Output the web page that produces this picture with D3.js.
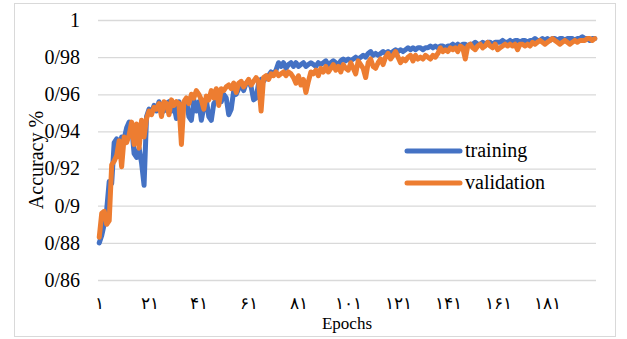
<!DOCTYPE html>
<html>
<head>
<meta charset="utf-8">
<script src="https://cdn.jsdelivr.net/npm/d3@7"></script>
<style>
  body { margin: 0; background: #fff; }
  svg { display: block; }
</style>
</head>
<body>
<svg id="chart" width="627" height="339"></svg>
<script>
// epochs 1..200
var epochs = d3.range(1, 201);

var training = [
  0.880,0.884,0.890,0.898,0.913,0.912,0.934,0.936,0.929,0.937,
  0.936,0.942,0.945,0.943,0.928,0.926,0.931,0.923,0.911,0.948,
  0.952,0.950,0.954,0.951,0.956,0.953,0.951,0.955,0.956,0.951,
  0.954,0.947,0.956,0.950,0.955,0.957,0.948,0.946,0.957,0.951,
  0.956,0.946,0.953,0.957,0.948,0.946,0.955,0.957,0.959,0.956,
  0.960,0.958,0.949,0.952,0.962,0.960,0.963,0.965,0.962,0.966,
  0.967,0.964,0.957,0.958,0.966,0.968,0.967,0.969,0.970,0.972,
  0.971,0.973,0.977,0.975,0.977,0.974,0.976,0.977,0.975,0.977,
  0.975,0.976,0.977,0.975,0.976,0.977,0.976,0.975,0.977,0.976,
  0.977,0.978,0.976,0.977,0.978,0.977,0.976,0.978,0.979,0.978,
  0.979,0.978,0.979,0.980,0.979,0.980,0.981,0.980,0.982,0.983,
  0.981,0.982,0.981,0.982,0.983,0.982,0.983,0.982,0.983,0.984,
  0.983,0.984,0.983,0.984,0.985,0.984,0.985,0.984,0.985,0.985,
  0.984,0.985,0.985,0.986,0.985,0.986,0.985,0.986,0.986,0.985,
  0.986,0.986,0.987,0.986,0.987,0.986,0.987,0.987,0.986,0.987,
  0.987,0.988,0.987,0.987,0.988,0.987,0.988,0.988,0.987,0.988,
  0.988,0.988,0.989,0.988,0.988,0.989,0.988,0.989,0.989,0.988,
  0.989,0.989,0.988,0.989,0.989,0.990,0.989,0.989,0.990,0.989,
  0.990,0.989,0.990,0.990,0.989,0.990,0.990,0.989,0.990,0.990,
  0.990,0.989,0.990,0.990,0.991,0.990,0.990,0.989,0.990,0.990
];

var validation = [
  0.883,0.896,0.897,0.890,0.892,0.922,0.924,0.927,0.935,0.921,
  0.937,0.934,0.938,0.945,0.933,0.944,0.931,0.946,0.937,0.947,
  0.951,0.949,0.953,0.952,0.955,0.948,0.956,0.955,0.949,0.957,
  0.954,0.956,0.955,0.933,0.956,0.958,0.955,0.960,0.958,0.962,
  0.960,0.957,0.952,0.959,0.957,0.962,0.958,0.963,0.954,0.963,
  0.962,0.964,0.965,0.963,0.966,0.961,0.966,0.967,0.964,0.966,
  0.968,0.965,0.967,0.969,0.967,0.951,0.969,0.970,0.968,0.971,
  0.970,0.972,0.970,0.971,0.972,0.970,0.972,0.971,0.969,0.966,
  0.970,0.965,0.968,0.961,0.967,0.972,0.971,0.973,0.970,0.974,
  0.972,0.975,0.972,0.974,0.976,0.973,0.975,0.972,0.976,0.974,
  0.973,0.977,0.974,0.971,0.978,0.976,0.974,0.969,0.977,0.979,
  0.975,0.974,0.977,0.979,0.976,0.980,0.982,0.979,0.981,0.983,
  0.980,0.977,0.979,0.978,0.980,0.981,0.978,0.981,0.979,0.980,
  0.979,0.981,0.980,0.979,0.981,0.980,0.982,0.985,0.983,0.984,
  0.983,0.985,0.984,0.985,0.983,0.986,0.985,0.979,0.986,0.987,
  0.985,0.984,0.986,0.987,0.985,0.986,0.988,0.986,0.985,0.987,
  0.984,0.985,0.986,0.987,0.986,0.987,0.986,0.987,0.984,0.987,
  0.987,0.986,0.987,0.986,0.988,0.987,0.988,0.989,0.988,0.987,
  0.988,0.989,0.990,0.989,0.988,0.987,0.988,0.989,0.988,0.987,
  0.988,0.989,0.988,0.989,0.989,0.989,0.990,0.990,0.989,0.990
];

var xTicks = [1, 21, 41, 61, 81, 101, 121, 141, 161, 181];
var yTicks = [0.86, 0.88, 0.90, 0.92, 0.94, 0.96, 0.98, 1.00];

var seriesNames = ["training", "validation"];
var seriesColors = ["#4472C4", "#ED7D31"];

var serif = "'Liberation Serif', 'Times New Roman', serif";
var persianDigits = "۰۱۲۳۴۵۶۷۸۹";

function toPersian(n) {
  return String(n).replace(/[0-9]/g, function(d) { return persianDigits[+d]; });
}

var svg = d3.select("#chart");
var plotLeft = 98, plotRight = 596, plotTop = 20, plotBottom = 280;

// outer chart border
svg.append("rect")
  .attr("x", 14.5).attr("y", 3.5)
  .attr("width", 601).attr("height", 333)
  .attr("fill", "#fff")
  .attr("stroke", "#d9d9d9")
  .attr("stroke-width", 1);

var x = d3.scalePoint().domain(epochs).range([plotLeft, plotRight]).padding(0.5);
var y = d3.scaleLinear().domain([0.86, 1]).range([plotBottom, plotTop]);

// horizontal grid + y labels
var yAxis = svg.append("g")
  .attr("transform", "translate(" + plotLeft + ",0)")
  .call(d3.axisLeft(y)
    .tickValues(yTicks)
    .tickSize(-(plotRight - plotLeft))
    .tickPadding(18)
    .tickFormat(function(d) { return String(+d.toFixed(2)).replace(".", "/"); }));
yAxis.select(".domain").remove();
yAxis.selectAll(".tick line").attr("stroke", "#d9d9d9").attr("stroke-width", 1.3);
yAxis.selectAll(".tick text")
  .attr("fill", "#000")
  .style("font-family", serif)
  .style("font-size", "20px");

// x labels in Persian digits
var xAxis = svg.append("g")
  .attr("transform", "translate(0," + plotBottom + ")")
  .call(d3.axisBottom(x)
    .tickValues(xTicks)
    .tickSize(0)
    .tickPadding(17)
    .tickFormat(toPersian));
xAxis.select(".domain").remove();
xAxis.selectAll(".tick text")
  .attr("fill", "#000")
  .style("font-family", serif)
  .style("font-size", "17px");

// series lines
var line = d3.line()
  .x(function(d, i) { return x(epochs[i]); })
  .y(function(d) { return y(d); });

[training, validation].forEach(function(values, k) {
  svg.append("path")
    .datum(values)
    .attr("d", line)
    .attr("fill", "none")
    .attr("stroke", seriesColors[k])
    .attr("stroke-width", 5)
    .attr("stroke-linejoin", "round")
    .attr("stroke-linecap", "round");
});

// legend
var legend = svg.append("g");
seriesNames.forEach(function(name, k) {
  var ly = 151 + k * 32;
  legend.append("line")
    .attr("x1", 407).attr("x2", 460)
    .attr("y1", ly).attr("y2", ly)
    .attr("stroke", seriesColors[k])
    .attr("stroke-width", 5)
    .attr("stroke-linecap", "round");
  legend.append("text")
    .attr("x", 465).attr("y", ly + 6)
    .style("font-family", serif)
    .style("font-size", "20px")
    .text(name);
});

// axis titles
svg.append("text")
  .attr("x", 347).attr("y", 329)
  .attr("text-anchor", "middle")
  .style("font-family", serif)
  .style("font-size", "17px")
  .text("Epochs");

svg.append("text")
  .attr("transform", "translate(43,160) rotate(-90)")
  .attr("text-anchor", "middle")
  .style("font-family", serif)
  .style("font-size", "20px")
  .text("Accuracy %");
</script>
</body>
</html>
